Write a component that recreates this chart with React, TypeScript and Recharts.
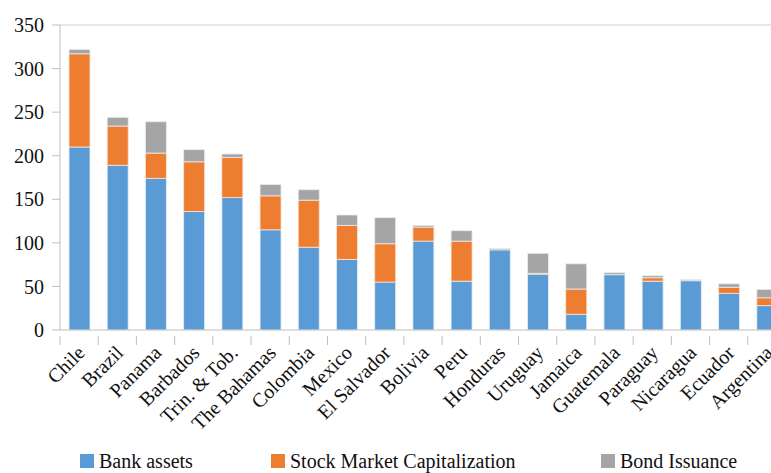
import React from "react";
import { Bar, BarChart, Legend, ReferenceLine, XAxis, YAxis } from "recharts";

const countries = [
  "Chile", "Brazil", "Panama", "Barbados", "Trin. & Tob.", "The Bahamas", "Colombia",
  "Mexico", "El Salvador", "Bolivia", "Peru", "Honduras", "Uruguay", "Jamaica",
  "Guatemala", "Paraguay", "Nicaragua", "Ecuador", "Argentina",
];
const bankAssets = [210, 189, 174, 136, 152, 115, 95, 81, 55, 102, 56, 92, 64, 18, 63.5, 56, 56.6, 42, 28];
const stockMarket = [107, 45, 29, 57, 46, 39, 54, 39, 44, 16, 46, 0, 1, 29, 0, 4, 0, 7, 9];
const bondIssuance = [5, 10, 36, 14, 4, 13, 12, 12, 30, 2, 12, 1.5, 23, 29, 2.3, 2.3, 1.2, 4, 9.5];
const yTicks = [0, 50, 100, 150, 200, 250, 300, 350];

const BLUE = "#5B9BD5";
const ORANGE = "#ED7D31";
const GREY = "#A5A5A5";
const AXIS = "#BFBFBF";
const FONT = "Liberation Serif, Tinos, Times New Roman, DejaVu Serif, serif";

const data = countries.map((name, i) => ({
  name,
  bank: bankAssets[i],
  stock: stockMarket[i],
  bond: bondIssuance[i],
}));

// label rotated -45deg plus a tick mark on the left edge of each category band
function CountryTick(props: any) {
  const { x, y, payload } = props;
  const half = payload && payload.offset != null ? payload.offset : 19;
  const lx = x + 7;
  const ly = y + 16;
  return (
    <g>
      <line x1={x - half} y1={y - 2} x2={x - half} y2={y + 7} stroke={AXIS} strokeWidth={1} />
      <text
        x={lx}
        y={ly}
        transform={`rotate(-45, ${lx}, ${ly})`}
        textAnchor="end"
        style={{ fontFamily: FONT }}
        fontSize={20}
        fill="#111"
      >
        {payload.value}
      </text>
    </g>
  );
}

const legendItems = [
  { label: "Bank assets", color: BLUE, left: 80 },
  { label: "Stock Market Capitalization", color: ORANGE, left: 271 },
  { label: "Bond Issuance", color: GREY, left: 601 },
];

function ChartLegend() {
  return (
    <div style={{ position: "relative", height: 24, width: 800 }}>
      {legendItems.map((it) => (
        <div
          key={it.label}
          style={{
            position: "absolute",
            left: it.left,
            top: 0,
            display: "flex",
            alignItems: "center",
            fontFamily: FONT,
            fontSize: 20,
            color: "#111",
            whiteSpace: "nowrap",
            lineHeight: "24px",
          }}
        >
          <span style={{ width: 14, height: 14, background: it.color, marginRight: 5, display: "inline-block" }} />
          {it.label}
        </div>
      ))}
    </div>
  );
}

export default function App() {
  return (
    <div style={{ position: "absolute", left: 0, top: 0, width: 771, height: 473, overflow: "hidden", background: "#fff", fontFamily: FONT }}>
      <BarChart
        width={800}
        height={473}
        data={data}
        margin={{ top: 25, right: 14, left: 0, bottom: 0 }}
        barSize={21}
        style={{ fontFamily: FONT }}
      >
        <YAxis
          domain={[0, 350]}
          ticks={yTicks}
          width={60}
          tickSize={8}
          tickMargin={8}
          axisLine={{ stroke: AXIS }}
          tickLine={{ stroke: AXIS }}
          tick={{ fontFamily: FONT, fontSize: 20, fill: "#111", style: { fontFamily: FONT } }}
          interval={0}
        />
        <XAxis
          dataKey="name"
          interval={0}
          height={119}
          axisLine={{ stroke: AXIS }}
          tickLine={false}
          tick={<CountryTick />}
        />
        <ReferenceLine y={350} stroke="#D0D0D0" />
        <Legend verticalAlign="bottom" height={24} content={() => <ChartLegend />} wrapperStyle={{ left: 0 }} />
        <Bar dataKey="bank" stackId="a" fill={BLUE} stroke="#EAF1FA" strokeWidth={0.8} isAnimationActive={false} />
        <Bar dataKey="stock" stackId="a" fill={ORANGE} stroke="#FBE5D6" strokeWidth={0.8} isAnimationActive={false} />
        <Bar dataKey="bond" stackId="a" fill={GREY} stroke="#EDEDED" strokeWidth={0.8} isAnimationActive={false} />
      </BarChart>
    </div>
  );
}
